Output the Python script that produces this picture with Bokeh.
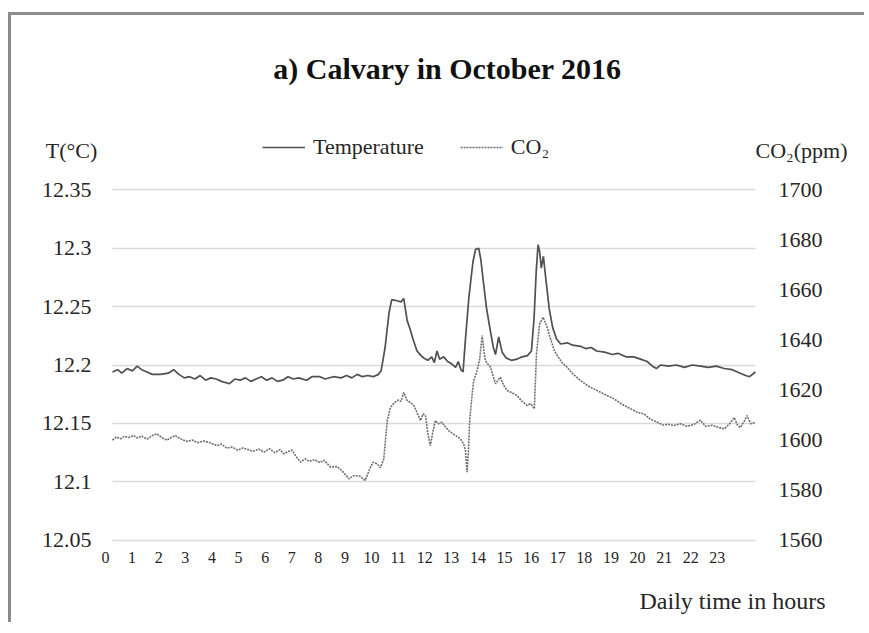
from bokeh.plotting import figure
from bokeh.models import (Range1d, LinearAxis, Legend, LegendItem, Label,
                          FixedTicker, ColumnDataSource)
from bokeh.embed import file_html
from bokeh.resources import INLINE

# ---------------- data ----------------
title_text = "a) Calvary in October 2016"
hour_ticks = list(range(0, 24))
t_ticks = [12.05, 12.1, 12.15, 12.2, 12.25, 12.3, 12.35]
t_tick_labels = ["12.05", "12.1", "12.15", "12.2", "12.25", "12.3", "12.35"]
co2_ticks = [1560, 1580, 1600, 1620, 1640, 1660, 1680, 1700]

temp_hours = [0.26, 0.46, 0.61, 0.81, 1.01, 1.19, 1.36, 1.56, 1.76, 2.06, 2.36, 2.56, 2.76,
              2.96, 3.16, 3.36, 3.56, 3.76, 3.96, 4.16, 4.36, 4.66, 4.86, 5.06, 5.26, 5.46,
              5.66, 5.86, 6.06, 6.26, 6.46, 6.66, 6.86, 7.06, 7.26, 7.56, 7.76, 8.06, 8.26,
              8.56, 8.86, 9.06, 9.26, 9.46, 9.66, 9.86, 10.06, 10.26, 10.36, 10.51, 10.66,
              10.76, 10.96, 11.11, 11.21, 11.34, 11.46, 11.56, 11.71, 11.86, 11.96, 12.11,
              12.26, 12.36, 12.46, 12.56, 12.71, 12.86, 13.01, 13.16, 13.26, 13.36, 13.44,
              13.53, 13.66, 13.81, 13.91, 14.03, 14.11, 14.18, 14.32, 14.46, 14.58, 14.66,
              14.78, 14.91, 15.06, 15.26, 15.46, 15.66, 15.86, 16.01, 16.11, 16.19, 16.26,
              16.32, 16.38, 16.46, 16.56, 16.68, 16.81, 16.96, 17.11, 17.36, 17.56, 17.86,
              18.06, 18.26, 18.46, 18.76, 19.06, 19.26, 19.56, 19.86, 20.11, 20.36, 20.56,
              20.71, 20.86, 21.16, 21.46, 21.76, 22.06, 22.36, 22.66, 22.96, 23.26, 23.56,
              23.86, 24.06, 24.21, 24.43]
temperature = [12.194, 12.196, 12.193, 12.197, 12.195, 12.199, 12.196, 12.194, 12.192,
               12.192, 12.193, 12.196, 12.192, 12.189, 12.190, 12.188, 12.191, 12.187,
               12.189, 12.188, 12.186, 12.184, 12.188, 12.187, 12.189, 12.186, 12.188,
               12.190, 12.187, 12.189, 12.186, 12.187, 12.190, 12.188, 12.189, 12.187,
               12.190, 12.190, 12.188, 12.190, 12.189, 12.191, 12.189, 12.192, 12.190,
               12.191, 12.190, 12.192, 12.195, 12.215, 12.245, 12.256, 12.255, 12.254,
               12.257, 12.238, 12.230, 12.222, 12.212, 12.208, 12.206, 12.204, 12.207,
               12.202, 12.212, 12.205, 12.207, 12.203, 12.201, 12.198, 12.203, 12.196,
               12.194, 12.222, 12.258, 12.288, 12.299, 12.300, 12.290, 12.276, 12.249,
               12.230, 12.215, 12.209, 12.224, 12.211, 12.206, 12.204, 12.205, 12.207,
               12.208, 12.212, 12.240, 12.280, 12.303, 12.297, 12.283, 12.293, 12.272,
               12.248, 12.232, 12.222, 12.218, 12.219, 12.217, 12.216, 12.214, 12.215,
               12.212, 12.211, 12.209, 12.210, 12.207, 12.207, 12.205, 12.203, 12.199,
               12.197, 12.200, 12.199, 12.200, 12.198, 12.200, 12.199, 12.198, 12.199,
               12.197, 12.196, 12.193, 12.191, 12.190, 12.194]

co2_hours = [0.26, 0.41, 0.56, 0.71, 0.86, 1.06, 1.21, 1.36, 1.56, 1.76, 1.94, 2.11, 2.31,
             2.46, 2.63, 2.81, 3.06, 3.26, 3.46, 3.71, 3.96, 4.2, 4.36, 4.56, 4.76, 4.96,
             5.16, 5.36, 5.56, 5.76, 5.96, 6.16, 6.36, 6.56, 6.7, 6.86, 7.01, 7.16, 7.33,
             7.51, 7.66, 7.86, 8.06, 8.21, 8.46, 8.71, 8.91, 9.16, 9.33, 9.56, 9.76, 9.96,
             10.06, 10.21, 10.33, 10.46, 10.59, 10.71, 10.86, 11.01, 11.11, 11.21, 11.34,
             11.46, 11.59, 11.71, 11.84, 11.94, 12.03, 12.11, 12.21, 12.31, 12.4, 12.51,
             12.65, 12.76, 12.9, 13.06, 13.21, 13.34, 13.46, 13.53, 13.59, 13.64, 13.69,
             13.76, 13.84, 13.97, 14.06, 14.16, 14.22, 14.28, 14.36, 14.47, 14.56, 14.66,
             14.76, 14.84, 14.96, 15.1, 15.26, 15.47, 15.66, 15.85, 15.96, 16.04, 16.12,
             16.2, 16.32, 16.45, 16.6, 16.71, 16.79, 16.88, 16.98, 17.16, 17.35, 17.56,
             17.85, 18.16, 18.48, 18.76, 19.11, 19.46, 19.74, 20.01, 20.24, 20.46, 20.74,
             20.96, 21.16, 21.36, 21.61, 21.86, 22.11, 22.36, 22.56, 22.81, 23.06, 23.26,
             23.46, 23.63, 23.76, 23.86, 24.01, 24.11, 24.26, 24.43]
co2 = [1600.0, 1601.2, 1600.5, 1601.5, 1601.0, 1601.8, 1600.8, 1601.6, 1600.4, 1601.8,
       1602.5, 1601.0, 1600.0, 1601.0, 1601.8, 1600.5, 1599.5, 1600.0, 1599.0, 1599.6,
       1598.8, 1597.8, 1598.4, 1596.8, 1597.2, 1596.0, 1596.8, 1596.2, 1595.5, 1596.4,
       1595.2, 1596.6, 1595.0, 1596.2, 1594.5, 1595.4, 1596.0, 1593.5, 1591.2, 1592.5,
       1591.5, 1592.2, 1591.0, 1592.0, 1589.2, 1589.4, 1587.5, 1584.5, 1585.8, 1585.6,
       1583.9, 1589.2, 1591.2, 1590.5, 1589.0, 1592.5, 1607.8, 1613.0, 1615.0, 1616.0,
       1615.5, 1619.0, 1615.8, 1615.0, 1613.8, 1611.0, 1607.8, 1610.5, 1609.8, 1603.0,
       1597.8, 1603.5, 1607.8, 1606.5, 1607.1, 1605.5, 1603.8, 1602.5, 1601.5, 1600.5,
       1598.5, 1595.8, 1587.2, 1595.0, 1607.8, 1616.0, 1623.8, 1627.8, 1632.0, 1641.8,
       1636.0, 1631.8, 1630.5, 1629.1, 1626.0, 1622.5, 1624.0, 1625.1, 1622.0, 1619.8,
       1619.0, 1617.8, 1615.5, 1613.8, 1614.5, 1613.8, 1612.5, 1634.5, 1646.5, 1649.1,
       1645.1, 1641.0, 1638.5, 1635.5, 1633.8, 1631.0, 1629.1, 1626.5, 1623.8, 1621.5,
       1619.8, 1618.3, 1616.5, 1614.0, 1612.5, 1611.0, 1610.5, 1608.5, 1607.1, 1606.0,
       1606.3, 1605.8, 1606.5, 1605.5, 1606.2, 1608.0, 1605.5, 1605.9, 1605.0, 1604.5,
       1606.5, 1609.0, 1606.0, 1605.0, 1607.5, 1609.8, 1606.5, 1607.1]

# ---------------- figure ----------------
FONT = "Liberation Serif"
TXT = "#262626"

# plot area spans the whole chart so that legend and axis captions stay visible;
# the axes are pinned at the edges of the data region
p = figure(width=856, height=610, output_backend="svg", toolbar_location=None,
           x_range=Range1d(-2.519, 28.23), y_range=Range1d(11.9847, 12.4119),
           min_border_left=27, min_border_right=11, min_border_top=102,
           min_border_bottom=9)
p.styles = {"margin-left": "8px", "margin-top": "12px",
            "border-top": "3px solid #8c8c8c", "border-left": "3px solid #8c8c8c"}
p.outline_line_color = None
p.background_fill_color = "white"
p.border_fill_color = "white"

p.title.text = title_text
p.title.align = "center"
p.title.text_font = FONT
p.title.text_font_style = "bold"
p.title.text_font_size = "30px"
p.title.text_color = "#111111"
p.title.standoff = 65

p.extra_y_ranges = {"co2": Range1d(1529.52, 1728.89)}

temp_src = ColumnDataSource(dict(x=temp_hours, y=temperature))
co2_src = ColumnDataSource(dict(x=co2_hours, y=co2))

r_t = p.line("x", "y", source=temp_src, line_color="#505050", line_width=1.7)
r_c = p.line("x", "y", source=co2_src, y_range_name="co2", line_color="#6e6e6e",
             line_width=1.6, line_dash="2 1")

x_start, x_end = temp_hours[0] + 0.003, co2_hours[-1] + 0.006

xa = p.xaxis[0]
xa.ticker = FixedTicker(ticks=hour_ticks)
xa.fixed_location = t_ticks[0]
ya = p.yaxis[0]
ya.ticker = FixedTicker(ticks=t_ticks)
ya.major_label_overrides = {t: lab for t, lab in zip(t_ticks, t_tick_labels)}
ya.fixed_location = x_start
ra = LinearAxis(y_range_name="co2", ticker=FixedTicker(ticks=co2_ticks))
ra.fixed_location = x_end
p.add_layout(ra, "right")

for ax in (xa, ya, ra):
    ax.axis_line_color = None
    ax.major_tick_line_color = None
    ax.minor_tick_line_color = None
    ax.major_tick_out = 0
    ax.major_tick_in = 0
    ax.major_label_text_font = FONT
    ax.major_label_text_color = TXT
xa.major_label_text_font_size = "16px"
xa.major_label_standoff = 12
ya.major_label_text_font_size = "22px"
ya.major_label_standoff = 21
ra.major_label_text_font_size = "22px"
ra.major_label_standoff = 23

p.xgrid.visible = False
p.ygrid.ticker = FixedTicker(ticks=t_ticks)
p.ygrid.cross_bounds = (x_start, x_end)
p.ygrid.grid_line_color = "#d9d9d9"
p.ygrid.grid_line_width = 1.5

legend = Legend(items=[LegendItem(label="Temperature", renderers=[r_t]),
                       LegendItem(label="CO₂", renderers=[r_c])],
                location=(224, 456), orientation="horizontal",
                label_text_font=FONT, label_text_font_size="22px",
                label_text_color=TXT, glyph_width=43, glyph_height=20,
                label_standoff=8, spacing=36, padding=0, margin=0,
                border_line_color=None, background_fill_alpha=0)
p.add_layout(legend, "center")

lab_kw = dict(x_units="screen", y_units="screen", text_font=FONT,
              text_font_size="22px", text_color=TXT, text_baseline="middle")
p.add_layout(Label(x=33, y=466, text="T(°C)", text_align="center", **lab_kw))
p.add_layout(Label(x=763, y=466, text="CO₂(ppm)", text_align="center", **lab_kw))
p.add_layout(Label(x=787, y=16, text="Daily time in hours", text_align="right",
                   x_units="screen", y_units="screen", text_font=FONT,
                   text_font_size="24px", text_color=TXT, text_baseline="middle"))

open("out.html", "w").write(file_html(p, INLINE))
